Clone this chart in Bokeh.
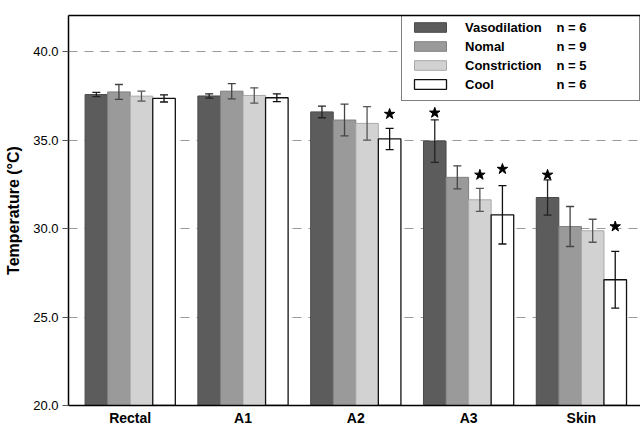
from bokeh.plotting import figure
from bokeh.models import (ColumnDataSource, Range1d, FixedTicker, LinearAxis, Whisker,
                          TeeHead, Legend, LegendItem, PrintfTickFormatter)
from bokeh.core.properties import value
from bokeh.embed import file_html
from bokeh.resources import INLINE

# ---------------- data ----------------
categories = ["Rectal", "A1", "A2", "A3", "Skin"]
series = ["Vasodilation", "Nomal", "Constriction", "Cool"]
n_values = ["n = 6", "n = 9", "n = 5", "n = 6"]

vasodilation = [37.58, 37.50, 36.60, 34.95, 31.76]
vasodilation_err = [0.12, 0.12, 0.33, 1.20, 1.00]
nomal = [37.73, 37.77, 36.14, 32.90, 30.12]
nomal_err = [0.42, 0.43, 0.90, 0.65, 1.13]
constriction = [37.49, 37.53, 35.95, 31.63, 29.88]
constriction_err = [0.28, 0.43, 0.95, 0.65, 0.65]
cool = [37.36, 37.40, 35.07, 30.78, 27.11]
cool_err = [0.20, 0.22, 0.60, 1.65, 1.60]

# significance stars: (category, series, y)
star_category = ["A2", "A3", "A3", "A3", "Skin", "Skin"]
star_series = ["Cool", "Vasodilation", "Constriction", "Cool", "Vasodilation", "Cool"]
star_y = [36.48, 36.55, 33.04, 33.37, 33.04, 30.12]

y_ticks = [20, 25, 30, 35, 40]
grid_ticks = [25, 30, 35, 40]

# ---------------- style / layout ----------------
FONT = "Liberation Sans"
fills = ["#5c5c5c", "#9a9a9a", "#d2d2d2", "#ffffff"]
outlines = ["#4a4a4a", "#808080", "#a8a8a8", "#111111"]
err_colors = ["#222222", "#444444", "#555555", "#111111"]
bar_w = 0.2
offsets = [-0.3, -0.1, 0.1, 0.3]

W, H = 640, 428
B_LEFT, B_TOP, B_BOTTOM = 68, 15, 22
X0, X1 = -0.547, 4.524
Y0, Y1 = 20, 42.05
px_x = (W - B_LEFT) / (X1 - X0)
px_y = (H - B_TOP - B_BOTTOM) / (Y1 - Y0)


def data_x(px):
    return X0 + (px - B_LEFT) / px_x


def data_y(py):
    return Y1 - (py - B_TOP) / px_y


p = figure(width=W, height=H, output_backend="svg", toolbar_location=None,
           x_range=Range1d(X0, X1), y_range=Range1d(Y0, Y1),
           min_border_left=B_LEFT, min_border_right=0, min_border_top=B_TOP,
           min_border_bottom=B_BOTTOM)
p.outline_line_color = None
p.background_fill_color = "white"

# legend box geometry (page px)
LEG_LEFT, LEG_TOP, LEG_RIGHT, LEG_BOTTOM = 401, 13, 640, 102

# white backing behind the legend (hides the grid line there)
p.quad(left=[data_x(LEG_LEFT)], right=[data_x(LEG_RIGHT)], top=[data_y(LEG_TOP)],
       bottom=[data_y(LEG_BOTTOM)], fill_color="white", line_color=None)

values = [vasodilation, nomal, constriction, cool]
errors = [vasodilation_err, nomal_err, constriction_err, cool_err]
renderers = []
for j, (vals, errs) in enumerate(zip(values, errors)):
    xs = [i + offsets[j] for i in range(len(categories))]
    src = ColumnDataSource(dict(x=xs, top=vals,
                                upper=[v + e for v, e in zip(vals, errs)],
                                lower=[v - e for v, e in zip(vals, errs)]))
    r = p.vbar(x="x", top="top", bottom=Y0, width=bar_w, source=src,
               fill_color=fills[j], line_color=outlines[j],
               line_width=1.3 if j == 3 else 1)
    renderers.append(r)
    w = Whisker(source=src, base="x", upper="upper", lower="lower",
                line_color=err_colors[j], line_width=1.3, level="annotation",
                upper_head=TeeHead(size=8, line_color=err_colors[j], line_width=1.3),
                lower_head=TeeHead(size=8, line_color=err_colors[j], line_width=1.3))
    p.add_layout(w)

star_x = [categories.index(c) + offsets[series.index(s)] for c, s in zip(star_category, star_series)]
p.scatter(x=star_x, y=star_y, marker="star", size=11, fill_color="black", line_color="black")

# axes
p.xaxis.ticker = FixedTicker(ticks=list(range(len(categories))))
p.xaxis.major_label_overrides = {i: c for i, c in enumerate(categories)}
p.xaxis.major_label_text_font = FONT
p.xaxis.major_label_text_font_style = "bold"
p.xaxis.major_label_text_font_size = "14px"
p.xaxis.major_label_text_color = "black"
p.xaxis.major_tick_line_color = None
p.xaxis.major_tick_out = 0
p.xaxis.major_tick_in = 0
p.xaxis.minor_tick_line_color = None
p.xaxis.minor_tick_out = 0
p.xaxis.axis_line_width = 1.5
p.xaxis.axis_line_color = "black"
p.xaxis.major_label_standoff = 4

p.yaxis.ticker = FixedTicker(ticks=y_ticks)
p.yaxis.formatter = PrintfTickFormatter(format="%.1f")
p.yaxis.major_label_text_font = FONT
p.yaxis.major_label_text_font_size = "13px"
p.yaxis.major_label_text_color = "black"
p.yaxis.major_tick_out = 6
p.yaxis.major_tick_in = 0
p.yaxis.major_tick_line_color = "#555555"
p.yaxis.minor_tick_line_color = None
p.yaxis.axis_line_width = 1.5
p.yaxis.axis_line_color = "black"
p.yaxis.major_label_standoff = 4
p.yaxis.axis_label = "Temperature (°C)"
p.yaxis.axis_label_text_font = FONT
p.yaxis.axis_label_text_font_style = "bold"
p.yaxis.axis_label_text_font_size = "16px"
p.yaxis.axis_label_text_color = "black"
p.yaxis.axis_label_standoff = 8

top_axis = LinearAxis(ticker=FixedTicker(ticks=[]), major_tick_out=0, major_tick_in=0,
                      minor_tick_line_color=None, axis_line_width=1.5, axis_line_color="black",
                      major_label_text_font_size="0px")
p.add_layout(top_axis, "above")

p.xgrid.grid_line_color = None
p.ygrid.ticker = FixedTicker(ticks=grid_ticks)
p.ygrid.grid_line_color = "#9a9a9a"
p.ygrid.grid_line_dash = "9 7"
p.ygrid.grid_line_width = 1

legend = Legend(items=[LegendItem(label=s, renderers=[r]) for s, r in zip(series, renderers)],
                location=(LEG_LEFT - B_LEFT, (H - B_BOTTOM) - LEG_BOTTOM),
                margin=0, padding=8, spacing=3, label_height=16,
                glyph_width=40, glyph_height=12, label_width=166, label_standoff=15,
                label_text_font=FONT, label_text_font_style="bold",
                label_text_font_size="13px", label_text_color="black",
                border_line_color="black", border_line_width=1.5,
                background_fill_alpha=0)
p.add_layout(legend)

# sample sizes: a second text column inside the legend box
n_px_x = 556
n_px_rows = [27 + 19 * k for k in range(len(n_values))]
p.text(x=[data_x(n_px_x)] * len(n_values), y=[data_y(py) for py in n_px_rows], text=n_values,
       text_font=value(FONT), text_font_style="bold", text_font_size="13px",
       text_color="black", text_baseline="middle", text_align="left", level="annotation")

open("out.html", "w").write(file_html(p, INLINE))
